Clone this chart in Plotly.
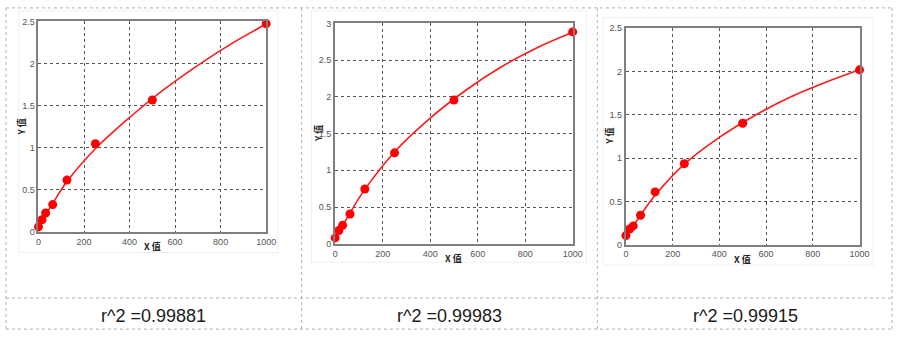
import plotly.graph_objects as go

W, H = 905, 338

# ---- data ----
conc = [0, 15.6, 31.25, 62.5, 125, 250, 500, 1000]
od_1 = [0.061, 0.146, 0.226, 0.326, 0.617, 1.05, 1.568, 2.473]
od_2 = [0.079, 0.18, 0.25, 0.405, 0.745, 1.238, 1.956, 2.885]
od_3 = [0.105, 0.18, 0.217, 0.34, 0.61, 0.936, 1.403, 2.02]

fit_x = [0, 62.5, 125, 250, 400, 550, 700, 850, 1000]
fit_1 = [0.05, 0.34, 0.60, 0.99, 1.36, 1.69, 1.98, 2.24, 2.47]
fit_2 = [0.07, 0.42, 0.74, 1.25, 1.71, 2.09, 2.41, 2.67, 2.88]
fit_3 = [0.09, 0.34, 0.57, 0.93, 1.24, 1.49, 1.70, 1.87, 2.02]

r2_labels = ["r^2 =0.99881", "r^2 =0.99983", "r^2 =0.99915"]
x_ticks = [0, 200, 400, 600, 800, 1000]
y_max = [2.5, 3, 2.5]

# ---- layout geometry (pixels) ----
plots = [  # left, right, top, bottom of plot area
    (36, 267, 17, 234),
    (337, 578, 19, 246),
    (632, 869, 24, 247),
]
cards = [(16, 279, 6, 255), (313, 592, 6, 265), (609, 883, 13, 268)]


def px(x):
    return x / W


def py(y):
    return 1 - y / H


fig = go.Figure()
series = [(od_1, fit_1), (od_2, fit_2), (od_3, fit_3)]
shapes = []
annotations = []
for i, ((pts, fit), (l, r, t, b)) in enumerate(zip(series, plots)):
    n = "" if i == 0 else str(i + 1)
    xa, ya = "x" + n, "y" + n
    fig.add_trace(go.Scatter(x=fit_x, y=fit, mode="lines",
                             line=dict(color="#ff1a1a", width=1.6, shape="spline", smoothing=1.0),
                             xaxis=xa, yaxis=ya, showlegend=False, cliponaxis=False, hoverinfo="skip"))
    fig.add_trace(go.Scatter(x=conc, y=pts, mode="markers", marker=dict(color="#ff0000", size=9),
                             xaxis=xa, yaxis=ya, showlegend=False, cliponaxis=False))
    axis_common = dict(showline=True, mirror=True, linecolor="#7f7f7f", linewidth=2,
                       showgrid=True, gridcolor="#555555", griddash="dot", gridwidth=1,
                       zeroline=False, ticks="", tickfont=dict(family="Liberation Sans", size=9, color="#555555"),
                       fixedrange=True)
    fig.update_layout(**{
        "xaxis" + n: dict(domain=[px(l), px(r)], range=[0, 1000], tickvals=x_ticks, anchor=ya,
                          **axis_common),
        "yaxis" + n: dict(domain=[py(b), py(t)], range=[0, y_max[i]], dtick=0.5, anchor=xa,
                          **axis_common),
    })
    cl, cr, ct, cb = cards[i]
    shapes.append(dict(type="rect", xref="paper", yref="paper", x0=px(cl), x1=px(cr), y0=py(cb), y1=py(ct),
                       line=dict(color="#efefef", width=1), fillcolor="white", layer="below"))
    annotations.append(dict(x=px((l + r) / 2), y=py(b + 15), xref="paper", yref="paper", text="<b>X 值</b>",
                            showarrow=False, font=dict(family="Noto Sans CJK SC", size=9, color="#222"),
                            xanchor="center", yanchor="middle"))
    annotations.append(dict(x=px(l - 17), y=py((t + b) / 2), xref="paper", yref="paper", text="<b>Y 值</b>",
                            showarrow=False, textangle=-90, font=dict(family="Noto Sans CJK SC", size=9, color="#222"),
                            xanchor="center", yanchor="middle"))
    cx = [153, 453, 753][i]
    annotations.append(dict(x=px(cx), y=py(320), xref="paper", yref="paper", text=r2_labels[i],
                            showarrow=False, font=dict(family="Liberation Sans Narrow, Liberation Sans", size=18,
                                                       color="#1a1a1a"),
                            xanchor="center", yanchor="middle"))

# table borders
dash = dict(color="#b0b0b0", width=1, dash="dot")
for xv in [3, 303, 603, 902]:
    shapes.append(dict(type="line", xref="paper", yref="paper", x0=px(xv), x1=px(xv), y0=py(3), y1=py(334), line=dash))
for yv in [3, 302, 334]:
    shapes.append(dict(type="line", xref="paper", yref="paper", x0=px(3), x1=px(902), y0=py(yv), y1=py(yv), line=dash))

fig.update_layout(width=W, height=H, margin=dict(l=0, r=0, t=0, b=0), paper_bgcolor="white",
                  plot_bgcolor="white", shapes=shapes, annotations=annotations)
fig.write_html("out.html")
